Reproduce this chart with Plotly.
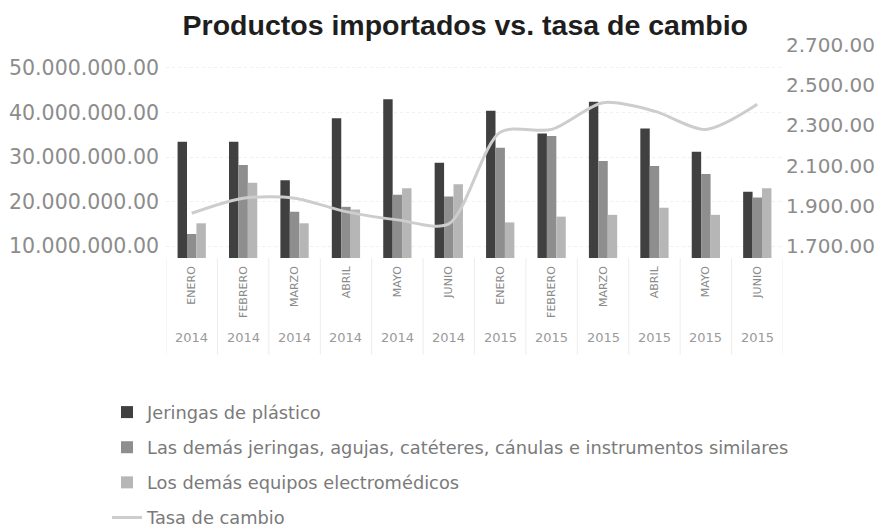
import plotly.graph_objects as go

months = ["ENERO", "FEBRERO", "MARZO", "ABRIL", "MAYO", "JUNIO",
          "ENERO", "FEBRERO", "MARZO", "ABRIL", "MAYO", "JUNIO"]
years = ["2014"] * 6 + ["2015"] * 6

jeringas_plastico = [33.4e6, 33.4e6, 24.8e6, 38.7e6, 43.0e6, 28.7e6,
                     40.4e6, 35.3e6, 42.4e6, 36.4e6, 31.2e6, 22.2e6]
demas_jeringas = [12.7e6, 28.2e6, 17.7e6, 18.8e6, 21.5e6, 21.1e6,
                  32.1e6, 34.7e6, 29.1e6, 28.0e6, 26.2e6, 20.9e6]
equipos_electromedicos = [15.1e6, 24.2e6, 15.1e6, 18.2e6, 23.0e6, 23.9e6,
                          15.3e6, 16.6e6, 17.0e6, 18.6e6, 17.0e6, 23.0e6]
tasa_cambio = [1863, 1938, 1938, 1871, 1830, 1810,
               2266, 2280, 2413, 2371, 2280, 2405]

left_ticks = [10e6, 20e6, 30e6, 40e6, 50e6]
left_ticktext = ["10.000.000.00", "20.000.000.00", "30.000.000.00",
                 "40.000.000.00", "50.000.000.00"]
right_ticks = [1700, 1900, 2100, 2300, 2500, 2700]
right_ticktext = ["1.700.00", "1.900.00", "2.100.00", "2.300.00",
                  "2.500.00", "2.700.00"]

x_idx = list(range(len(months)))

GRAY = "#8c8c8c"
FONT = "DejaVu Sans"

fig = go.Figure()
fig.add_trace(go.Bar(x=x_idx, y=jeringas_plastico, name="Jeringas de plástico",
                     marker=dict(color="#404040", line=dict(width=0)),
                     legendgroup="a"))
fig.add_trace(go.Bar(x=x_idx, y=demas_jeringas,
                     name="Las demás jeringas, agujas, catéteres, cánulas e instrumentos similares",
                     marker=dict(color="#8e8e8e", line=dict(width=0)),
                     legendgroup="b"))
fig.add_trace(go.Bar(x=x_idx, y=equipos_electromedicos,
                     name="Los demás equipos electromédicos",
                     marker=dict(color="#b6b6b6", line=dict(width=0)),
                     legendgroup="c"))
fig.add_trace(go.Scatter(x=x_idx, y=tasa_cambio, name="Tasa de cambio",
                         mode="lines", yaxis="y2",
                         line=dict(color="#cdcdcd", width=3, shape="spline", smoothing=0.8),
                         legendgroup="d"))

# year labels under month labels
for i, yr in enumerate(years):
    fig.add_annotation(x=i, y=-0.405, xref="x", yref="paper", text=yr,
                       showarrow=False, font=dict(family=FONT, size=13, color="#9a9a9a"))

# faint category separators
for i in range(len(months) + 1):
    fig.add_shape(type="line", xref="x", yref="paper", x0=i - 0.5, x1=i - 0.5,
                  y0=0, y1=-0.44, line=dict(color="#ededed", width=1))

fig.update_layout(
    width=876, height=522,
    margin=dict(l=158, r=101, t=30, b=272, autoexpand=False),
    paper_bgcolor="white", plot_bgcolor="white",
    title=dict(text="<b>Productos importados vs. tasa de cambio</b>",
               x=0.522, xanchor="center", y=0.967, yanchor="middle",
               font=dict(family="Liberation Sans", size=28.5, color="#1e1e1e")),
    barmode="group", bargap=0.45, bargroupgap=0,
    showlegend=True,
    legend=dict(orientation="v", xref="container", yref="container",
                x=0.113, xanchor="left", y=0.2605, yanchor="top",
                traceorder="grouped", tracegroupgap=9,
                font=dict(family=FONT, size=17.8, color="#7a7a7a"),
                bgcolor="rgba(0,0,0,0)"),
    xaxis=dict(tickmode="array", tickvals=x_idx, ticktext=months, tickangle=-90,
               tickfont=dict(family=FONT, size=11, color="#8a8a8a"),
               ticklabelstandoff=5,
               showgrid=False, zeroline=False, showline=False,
               range=[-0.5, len(months) - 0.5]),
    yaxis=dict(range=[7.303e6, 56.74e6], tickmode="array", tickvals=left_ticks,
               ticktext=left_ticktext, showgrid=True, gridcolor="#f0f0f0",
               griddash="dot", zeroline=False, ticklabelstandoff=6,
               tickfont=dict(family=FONT, size=20.5, color=GRAY)),
    yaxis2=dict(range=[1640.3, 2734.8], tickmode="array", tickvals=right_ticks,
                ticktext=right_ticktext, overlaying="y", side="right",
                showgrid=False, zeroline=False, ticklabelstandoff=2,
                tickfont=dict(family=FONT, size=20, color=GRAY)),
)

fig.write_html("out.html")
